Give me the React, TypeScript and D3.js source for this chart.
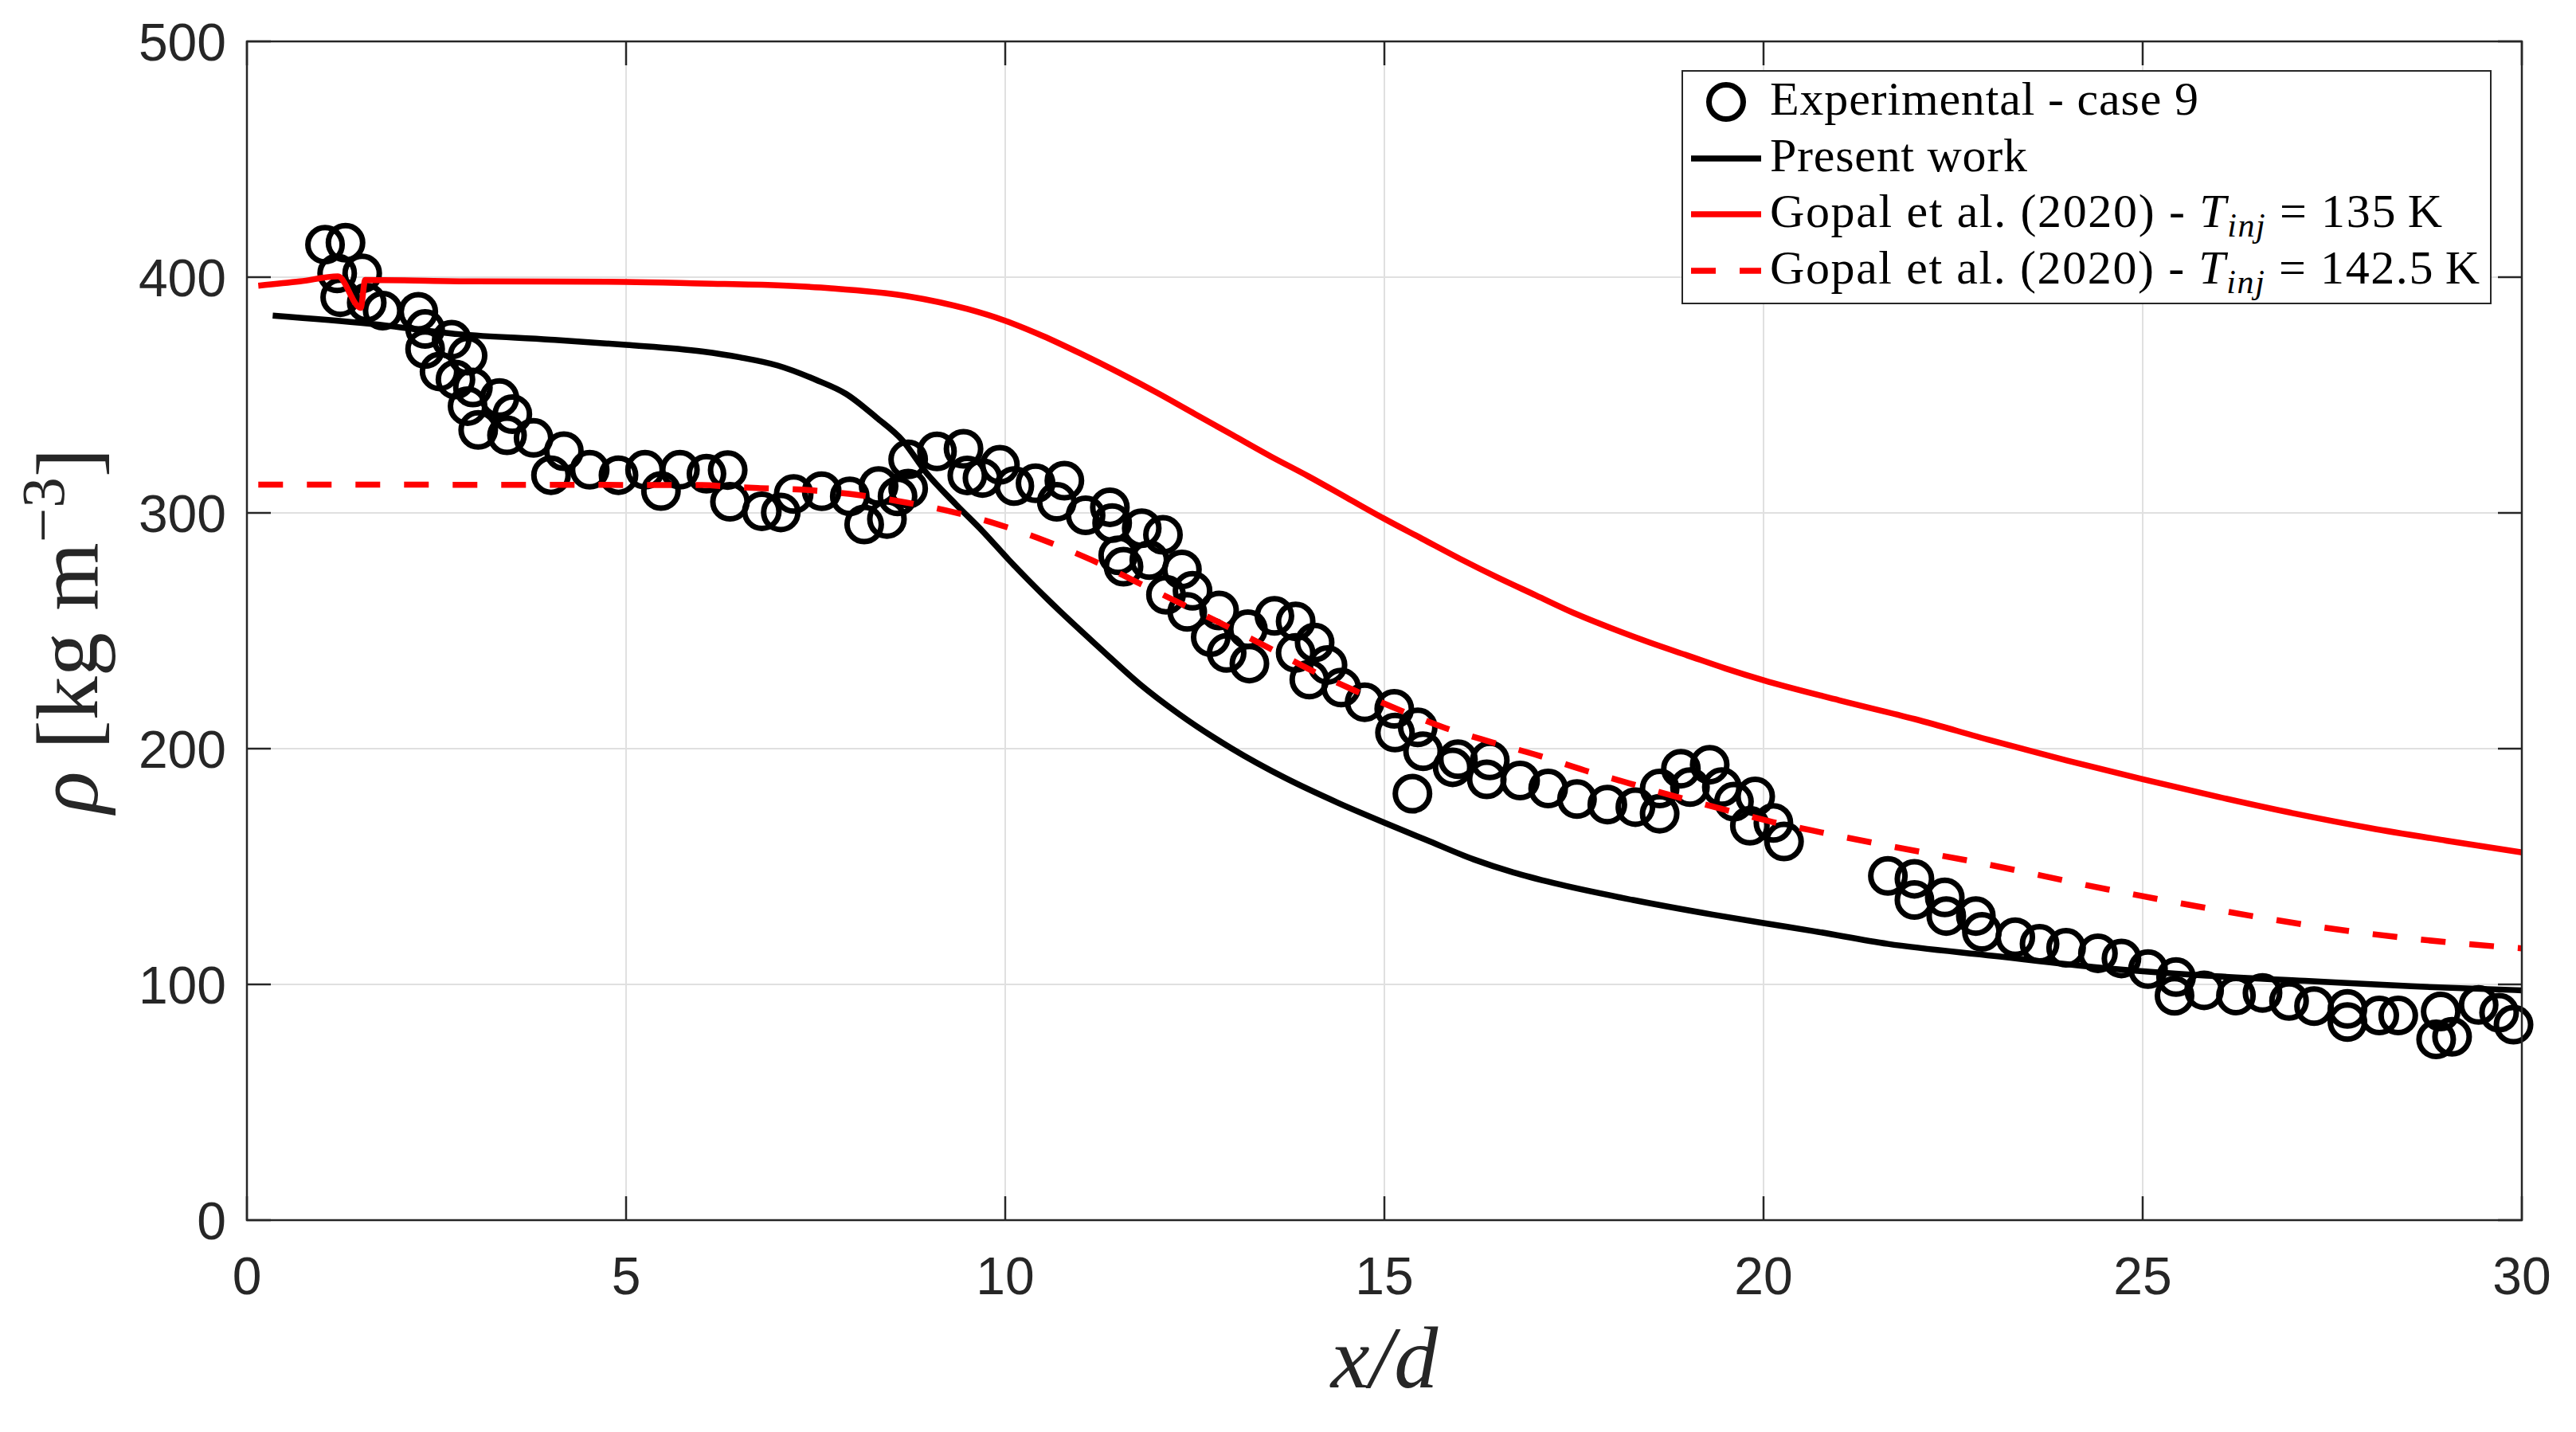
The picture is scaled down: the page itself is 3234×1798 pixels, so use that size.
import React, { useEffect, useRef } from "react";
import * as d3 from "d3";

const WIDTH = 3234;
const HEIGHT = 1798;
const MARGIN = { top: 52, right: 68, bottom: 266, left: 310 };

const X_TICKS = [0, 5, 10, 15, 20, 25, 30];
const Y_TICKS = [0, 100, 200, 300, 400, 500];

// Experimental - case 9 : [x/d, rho]
const experimental: [number, number][] = [
  [1.03, 413.8], [1.3, 414.6], [1.19, 401.6], [1.52, 401.6], [1.23, 391.5],
  [1.58, 389.2], [1.79, 385.8], [2.26, 385.3], [2.35, 378], [2.35, 369.5],
  [2.7, 373.5], [2.91, 366.7], [2.54, 360], [2.75, 356.6], [2.98, 353.2],
  [2.91, 345.3], [3.33, 348.7], [3.5, 341.9], [3.05, 335.2], [3.43, 332.9],
  [3.78, 331.8], [4.18, 326.2], [4.01, 316], [4.52, 318.3], [4.9, 316],
  [5.25, 318.3], [5.46, 309.3], [5.71, 318.3], [6.06, 316.6], [6.34, 318.2],
  [6.37, 304.7], [6.79, 300.7], [7.04, 300.2], [7.21, 308], [7.58, 309.2],
  [7.95, 307], [8.14, 295.1], [8.33, 311.4], [8.44, 297.4], [8.58, 307],
  [8.72, 310.3], [8.72, 322.7], [9.1, 326.1], [9.45, 327.2], [9.5, 315.9],
  [9.7, 314.8], [9.93, 320.4], [10.12, 311.4], [10.4, 312.6], [10.78, 313.7],
  [10.68, 304.7], [11.06, 299], [11.38, 302.4], [11.41, 295.7], [11.49, 282],
  [11.56, 277.2], [11.8, 293.5], [12.08, 290.7], [11.9, 280], [12.33, 276],
  [12.12, 265.3], [12.47, 267], [12.4, 258], [12.82, 258.6], [13.2, 250.7],
  [12.71, 247.3], [12.92, 240.6], [13.22, 236.1], [13.55, 256.3], [13.83, 254],
  [13.83, 240.6], [14.08, 245], [14.01, 229.3], [14.25, 235.5], [14.43, 225.9],
  [14.74, 219.7], [15.13, 216.9], [15.14, 206.8], [15.44, 209], [15.51, 198.9],
  [15.37, 180.9], [15.9, 192.1], [15.97, 195.5], [16.39, 195], [16.35, 187],
  [16.79, 186.5], [17.16, 183.1], [17.54, 178.6], [17.94, 176.3], [18.31, 175.2],
  [18.63, 183.1], [18.63, 172.4], [18.91, 191.5], [19.03, 183.7], [19.29, 193.2],
  [19.45, 183.7], [19.61, 177.5], [19.89, 179.7], [19.82, 167.3], [20.13, 168.5],
  [20.27, 160.6], [21.64, 146], [21.99, 144.8], [21.99, 135.8], [22.39, 136.9],
  [22.41, 129], [22.8, 129], [22.88, 122.3], [23.32, 120], [23.64, 117.2],
  [23.99, 115.5], [24.41, 113.2], [24.72, 111], [25.07, 106.5], [25.44, 103.1],
  [25.42, 95.2], [25.81, 97.5], [26.23, 95.3], [26.58, 96.4], [26.93, 93],
  [27.26, 90.8], [27.7, 89.6], [27.7, 84], [28.12, 86.8], [28.37, 86.8],
  [28.93, 88.5], [28.87, 76.7], [29.08, 77.8], [29.43, 91.3], [29.7, 88],
  [29.89, 82.9],
];

// Present work
const presentWork: [number, number][] = [
  [0.34, 383.7], [1.6, 380.3], [2.8, 375.8], [4.0, 373.5], [5.0, 371.3],
  [6.0, 368.5], [6.5, 366], [7.0, 362.5], [7.5, 356.5], [7.9, 350.5],
  [8.3, 340.5], [8.65, 330.6], [8.96, 317], [9.35, 303.6], [9.7, 292.3],
  [10.05, 280], [10.57, 263], [11.27, 242], [11.77, 227.5], [12.29, 214.7],
  [12.99, 200], [13.69, 187.6], [14.39, 177], [15.09, 167.4], [15.55, 161.3],
  [16.18, 153], [16.7, 147.5], [17.23, 143], [18.28, 135.8], [19.33, 129.6],
  [20.0, 126], [20.66, 122.6], [21.64, 117.2], [23.04, 112.1], [24.44, 107.1],
  [25.84, 103.7], [27.14, 101.5], [28.54, 99.2], [30.0, 97.5],
];

// Gopal et al. (2020) - T_inj = 135 K
const gopal135: [number, number][] = [
  [0.15, 396.4], [0.7, 398.2], [1.2, 400.3], [1.5, 387], [1.56, 398.8],
  [3.0, 398.2], [5.0, 398], [6.0, 397.3], [7.0, 396.5], [7.7, 395.3],
  [8.7, 392], [9.5, 386.5], [10.0, 381.5], [10.5, 375], [11.0, 367.5],
  [11.5, 359.5], [12.0, 351], [12.5, 342], [13.0, 333], [13.5, 324],
  [14.0, 315.5], [14.5, 306.5], [15.0, 297.5], [15.5, 289], [16.0, 280.5],
  [16.5, 272.5], [17.0, 265], [17.5, 257.5], [18.0, 251], [18.5, 245],
  [19.0, 239.5], [19.5, 234], [20.0, 229], [21.0, 220.5], [22.0, 212.5],
  [23.0, 203.5], [24.0, 195], [25.0, 187], [26.0, 179.5], [27.0, 172.5],
  [28.0, 166.3], [29.0, 161], [30.0, 156],
];

// Gopal et al. (2020) - T_inj = 142.5 K
const gopal1425: [number, number][] = [
  [0.15, 312], [6.0, 311.8], [6.43, 311], [6.77, 310.5], [7.44, 309.6],
  [8.04, 307.7], [8.71, 304.3], [9.32, 300.3], [9.92, 295], [10.54, 288],
  [11.14, 280], [11.74, 270.6], [12.35, 261], [12.88, 252.6], [13.49, 242.5],
  [14.02, 233.5], [14.62, 224.5], [15.23, 216], [15.8, 208.8], [16.43, 202.6],
  [17.04, 197], [17.64, 190.8], [18.24, 185.2], [18.85, 179.6], [19.5, 174],
  [20.12, 168.9], [20.76, 164.5], [22.04, 156.4], [22.67, 152.7], [24.54, 140.3],
  [25.84, 132.4], [27.75, 122.5], [29.66, 116.1], [30.0, 115.3],
];

const AXIS_COLOR = "#262626";
const GRID_COLOR = "#e0e0e0";
const SANS = "'Liberation Sans', Arial, Helvetica, sans-serif";
const SERIF = "'Liberation Serif', 'Times New Roman', serif";
const LINE_W = 7.5;
const DASH = "31,30";
const MARKER_R = 21.5;

const App: React.FC = () => {
  const svgRef = useRef<SVGSVGElement | null>(null);

  useEffect(() => {
    document.body.style.margin = "0";
    const svgElement = svgRef.current;
    if (!svgElement) return;

    const svg = d3.select(svgElement);
    svg.selectAll("*").remove();

    const innerW = WIDTH - MARGIN.left - MARGIN.right;
    const innerH = HEIGHT - MARGIN.top - MARGIN.bottom;

    svg.append("rect").attr("width", WIDTH).attr("height", HEIGHT).attr("fill", "white");

    const g = svg.append("g").attr("transform", `translate(${MARGIN.left},${MARGIN.top})`);

    const xScale = d3.scaleLinear().domain([0, 30]).range([0, innerW]);
    const yScale = d3.scaleLinear().domain([0, 500]).range([innerH, 0]);

    // grid
    g.append("g")
      .selectAll("line")
      .data(X_TICKS.slice(1, -1))
      .enter()
      .append("line")
      .attr("x1", (d) => xScale(d))
      .attr("x2", (d) => xScale(d))
      .attr("y1", 0)
      .attr("y2", innerH)
      .attr("stroke", GRID_COLOR)
      .attr("stroke-width", 2);
    g.append("g")
      .selectAll("line")
      .data(Y_TICKS.slice(1, -1))
      .enter()
      .append("line")
      .attr("x1", 0)
      .attr("x2", innerW)
      .attr("y1", (d) => yScale(d))
      .attr("y2", (d) => yScale(d))
      .attr("stroke", GRID_COLOR)
      .attr("stroke-width", 2);

    // experimental circles
    g.append("g")
      .selectAll("circle")
      .data(experimental)
      .enter()
      .append("circle")
      .attr("cx", (d) => xScale(d[0]))
      .attr("cy", (d) => yScale(d[1]))
      .attr("r", MARKER_R)
      .attr("fill", "none")
      .attr("stroke", "#000")
      .attr("stroke-width", 7);

    const line = d3
      .line<[number, number]>()
      .x((d) => xScale(d[0]))
      .y((d) => yScale(d[1]))
      .curve(d3.curveMonotoneX);

    g.append("path")
      .datum(presentWork)
      .attr("d", line)
      .attr("fill", "none")
      .attr("stroke", "#000")
      .attr("stroke-width", LINE_W);

    g.append("path")
      .datum(gopal135)
      .attr("d", line)
      .attr("fill", "none")
      .attr("stroke", "#ff0000")
      .attr("stroke-width", LINE_W)
      .attr("stroke-linejoin", "miter");

    g.append("path")
      .datum(gopal1425)
      .attr("d", line)
      .attr("fill", "none")
      .attr("stroke", "#ff0000")
      .attr("stroke-width", LINE_W)
      .attr("stroke-dasharray", DASH);

    // axes box
    g.append("rect")
      .attr("width", innerW)
      .attr("height", innerH)
      .attr("fill", "none")
      .attr("stroke", AXIS_COLOR)
      .attr("stroke-width", 2.5);

    const TICK = 30;
    const ticks = g.append("g").attr("stroke", AXIS_COLOR).attr("stroke-width", 2.5);
    X_TICKS.forEach((t) => {
      const x = xScale(t);
      ticks.append("line").attr("x1", x).attr("x2", x).attr("y1", innerH).attr("y2", innerH - TICK);
      ticks.append("line").attr("x1", x).attr("x2", x).attr("y1", 0).attr("y2", TICK);
    });
    Y_TICKS.forEach((t) => {
      const y = yScale(t);
      ticks.append("line").attr("x1", 0).attr("x2", TICK).attr("y1", y).attr("y2", y);
      ticks.append("line").attr("x1", innerW).attr("x2", innerW - TICK).attr("y1", y).attr("y2", y);
    });

    // tick labels
    g.append("g")
      .selectAll("text")
      .data(X_TICKS)
      .enter()
      .append("text")
      .attr("x", (d) => xScale(d))
      .attr("y", innerH + 93)
      .attr("text-anchor", "middle")
      .attr("font-family", SANS)
      .attr("font-size", 66)
      .attr("fill", AXIS_COLOR)
      .text((d) => d);
    g.append("g")
      .selectAll("text")
      .data(Y_TICKS)
      .enter()
      .append("text")
      .attr("x", -26)
      .attr("y", (d) => yScale(d) + 24)
      .attr("text-anchor", "end")
      .attr("font-family", SANS)
      .attr("font-size", 66)
      .attr("fill", AXIS_COLOR)
      .text((d) => d);

    // axis labels
    svg.append("text")
      .attr("x", MARGIN.left + innerW / 2)
      .attr("y", 1742)
      .attr("text-anchor", "middle")
      .attr("font-family", SERIF)
      .attr("font-style", "italic")
      .attr("font-size", 110)
      .attr("fill", AXIS_COLOR)
      .text("x/d");

    const yl = svg.append("text")
      .attr("transform", `translate(122,${MARGIN.top + innerH / 2}) rotate(-90)`)
      .attr("text-anchor", "middle")
      .attr("font-family", SERIF)
      .attr("font-size", 110)
      .attr("fill", AXIS_COLOR);
    yl.append("tspan").attr("font-style", "italic").text("ρ");
    yl.append("tspan").text(" [kg m");
    yl.append("tspan").attr("font-size", 77).attr("dy", -42).text("−3");
    yl.append("tspan").attr("dy", 42).text("]");

    // legend
    const legend = svg.append("g").attr("transform", "translate(2112,89)");
    legend.append("rect")
      .attr("width", 1015)
      .attr("height", 292)
      .attr("fill", "white")
      .attr("stroke", AXIS_COLOR)
      .attr("stroke-width", 2);

    const rowY = [39, 110, 180, 251];
    const symX1 = 11;
    const symX2 = 99;
    const textX = 110;

    legend.append("circle")
      .attr("cx", (symX1 + symX2) / 2)
      .attr("cy", rowY[0])
      .attr("r", MARKER_R)
      .attr("fill", "none")
      .attr("stroke", "#000")
      .attr("stroke-width", 7);
    legend.append("line")
      .attr("x1", symX1).attr("x2", symX2).attr("y1", rowY[1]).attr("y2", rowY[1])
      .attr("stroke", "#000").attr("stroke-width", LINE_W);
    legend.append("line")
      .attr("x1", symX1).attr("x2", symX2).attr("y1", rowY[2]).attr("y2", rowY[2])
      .attr("stroke", "#ff0000").attr("stroke-width", LINE_W);
    legend.append("line")
      .attr("x1", symX1).attr("x2", symX2).attr("y1", rowY[3]).attr("y2", rowY[3])
      .attr("stroke", "#ff0000").attr("stroke-width", LINE_W).attr("stroke-dasharray", DASH);

    const legendText = (row: number, len: number) =>
      legend.append("text")
        .attr("x", textX)
        .attr("y", rowY[row] + 16)
        .attr("font-family", SERIF)
        .attr("font-size", 60)
        .attr("fill", "#000")
        .attr("textLength", len)
        .attr("lengthAdjust", "spacing");

    legendText(0, 538).text("Experimental - case 9");
    legendText(1, 323).text("Present work");
    [
      { temp: "135", len: 844 },
      { temp: "142.5", len: 891 },
    ].forEach(({ temp, len }, i) => {
      const t = legendText(i + 2, len);
      t.append("tspan").text("Gopal et al. (2020) - ");
      t.append("tspan").attr("font-style", "italic").text("T");
      t.append("tspan").attr("font-style", "italic").attr("font-size", 42).attr("dy", 12).text("inj");
      t.append("tspan").attr("dy", -12).text(` = ${temp}\u2009K`);
    });
  }, []);

  return (
    <div>
      <svg
        ref={svgRef}
        width={WIDTH}
        height={HEIGHT}
        style={{ display: "block", position: "absolute", left: 0, top: 0 }}
      ></svg>
    </div>
  );
};

export default App;
